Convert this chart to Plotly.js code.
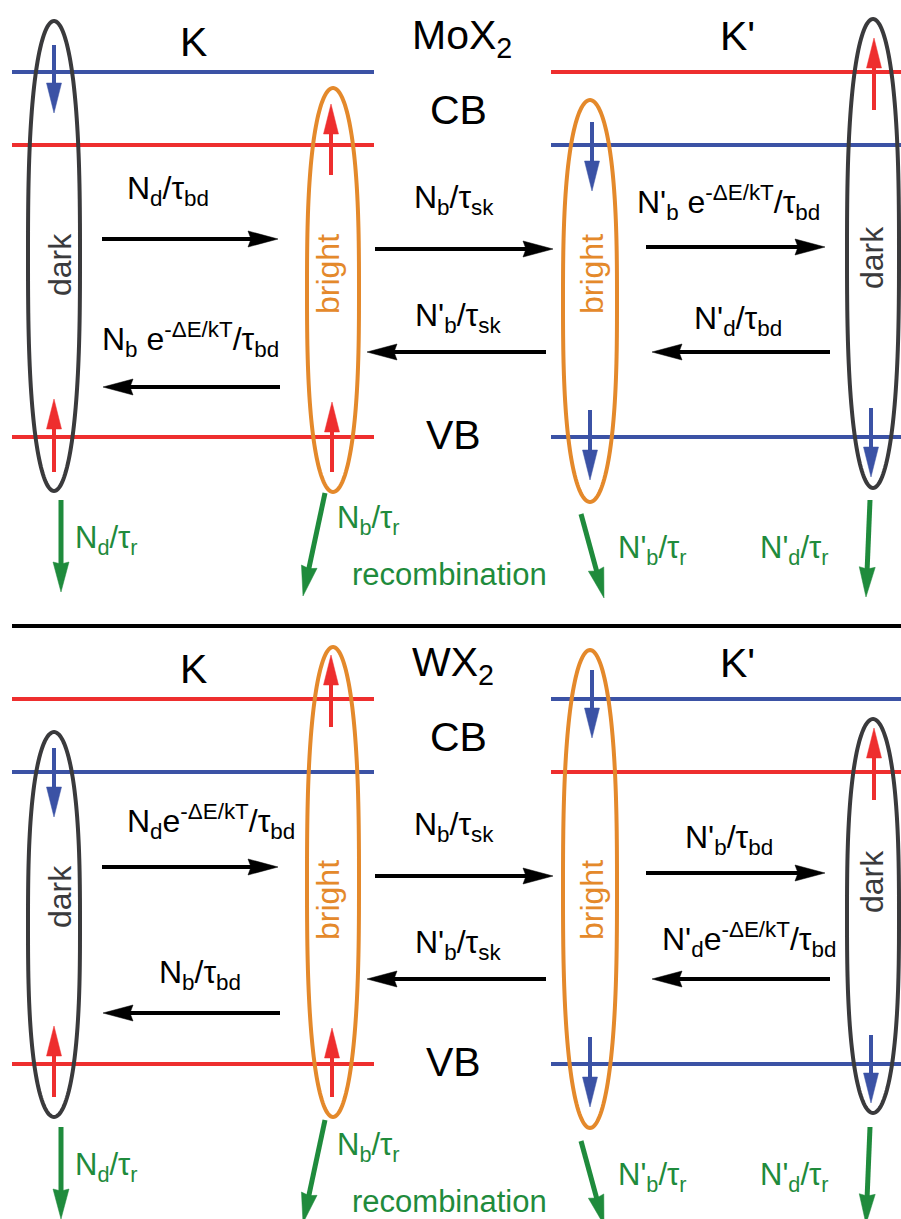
<!DOCTYPE html>
<html>
<head>
<meta charset="utf-8">
<script src="https://cdn.plot.ly/plotly-3.0.1.min.js"></script>
<style>html,body{margin:0;padding:0;background:#fff;}#chart{width:901px;height:1219px;}</style>
</head>
<body>
<div id="chart"></div>
<script>
// ---------- data (pixel units of the 901x1219 canvas) ----------
const panelNames = ['MoX<sub>2</sub>', 'WX<sub>2</sub>'];
const panelOffsets = [0, 627];

// band levels (relative to panel top): CB upper, CB lower, VB
const levelY = [72, 145, 437];
const leftLevelSpan = [12, 374];
const rightLevelSpan = [551, 901];
const leftLevelColors = [['blue', 'red', 'red'], ['red', 'blue', 'red']];
const rightLevelColors = [['red', 'blue', 'blue'], ['blue', 'red', 'blue']];

// excitons (ovals)
const excitonX = [54, 333, 590, 873];
const excitonWidth = [52, 52, 54, 52];
const excitonKind = ['dark', 'bright', 'bright', 'dark'];
const excitonTop = [[21, 88, 100, 19], [105, 20, 23, 92]];
const excitonBottom = [[491, 492, 502, 488], [490, 490, 501, 486]];
const excitonTextX = [60, 328, 592, 872];
const excitonTextY = [[265, 274, 274, 258], [270, 273, 273, 255]];

// spin arrows inside the ovals
const spinX = [54, 331, 54, 332, 592, 874, 590, 871];
const spinFrom = [[45, 175, 472, 472, 122, 110, 410, 408], [121, 100, 470, 470, 43, 173, 410, 408]];
const spinTo = [[113, 104, 399, 402, 191, 38, 480, 477], [190, 28, 399, 401, 111, 101, 480, 476]];
const spinColor = ['blue', 'red', 'red', 'red', 'blue', 'red', 'blue', 'blue'];

// transfer arrows between valleys
const transferFromX = [102, 375, 646, 280, 546, 830];
const transferToX = [278, 553, 825, 103, 367, 652];
const transferY = [[239, 249, 247, 387, 352, 352], [240, 249, 246, 386, 352, 352]];
const transferLabels = [
  ['N<sub>d</sub>/τ<sub>bd</sub>', 'N<sub>b</sub>/τ<sub>sk</sub>', "N'<sub>b</sub> e<sup>-ΔE/kT</sup>/τ<sub>bd</sub>",
   'N<sub>b</sub> e<sup>-ΔE/kT</sup>/τ<sub>bd</sub>', "N'<sub>b</sub>/τ<sub>sk</sub>", "N'<sub>d</sub>/τ<sub>bd</sub>"],
  ['N<sub>d</sub>e<sup>-ΔE/kT</sup>/τ<sub>bd</sub>', 'N<sub>b</sub>/τ<sub>sk</sub>', "N'<sub>b</sub>/τ<sub>bd</sub>",
   'N<sub>b</sub>/τ<sub>bd</sub>', "N'<sub>b</sub>/τ<sub>sk</sub>", "N'<sub>d</sub>e<sup>-ΔE/kT</sup>/τ<sub>bd</sub>"]
];
const transferLabelX = [[125, 412, 635, 100, 413, 692], [125, 412, 683, 157, 413, 660]];
const transferLabelBase = [[198, 207, 213, 350, 325, 328], [205, 207, 220, 355, 325, 323]];

// recombination arrows (green)
const recFromX = [61, 325, 581, 870];
const recFromY = [500, 493, 514, 500];
const recToX = [61, 303, 604, 866];
const recToY = [592, 596, 598, 597];
const recLabels = ['N<sub>d</sub>/τ<sub>r</sub>', 'N<sub>b</sub>/τ<sub>r</sub>', "N'<sub>b</sub>/τ<sub>r</sub>", "N'<sub>d</sub>/τ<sub>r</sub>", 'recombination'];
const recLabelX = [73, 335, 616, 758, 350];
const recLabelBase = [547, 527, 557, 557, 585];

// big headings
const headText = ['K', "K'", 'CB', 'VB'];
const headX = [193, 737, 458, 453];
const headBase = [56, 50, 124, 449];
const nameX = 410;
const nameBase = 47;
const separatorY = 626;

// ---------- drawing ----------
const COL = {blue: '#3b52a5', red: '#ee2e2e', orange: '#e4892b', dark: '#3a3a3c', green: '#1f8b3c', black: '#000000'};
const FONT = 'Liberation Sans, Arial, sans-serif';
const shapes = [];
const annotations = [];

function addLine(x0, y0, x1, y1, color, w) {
  shapes.push({type: 'line', xref: 'x', yref: 'y', x0: x0, y0: y0, x1: x1, y1: y1, line: {color: color, width: w}, layer: 'above'});
}
function addArrow(x0, y0, x1, y1, color, lw, headLen, headW, notch) {
  const dx = x1 - x0, dy = y1 - y0, L = Math.hypot(dx, dy), ux = dx / L, uy = dy / L, px = -uy, py = ux;
  const bx = x1 - ux * headLen, by = y1 - uy * headLen;
  addLine(x0, y0, bx + ux * (notch + 2), by + uy * (notch + 2), color, lw);
  const p = [[x1, y1], [bx + px * headW / 2, by + py * headW / 2], [bx + ux * notch, by + uy * notch], [bx - px * headW / 2, by - py * headW / 2]];
  shapes.push({type: 'path', xref: 'x', yref: 'y', layer: 'above',
    path: 'M' + p.map(q => q[0].toFixed(2) + ',' + q[1].toFixed(2)).join('L') + 'Z',
    fillcolor: color, line: {color: color, width: 0.5}});
}
function addOval(cx, top, bottom, w, color) {
  const cy = (top + bottom) / 2, b = (bottom - top) / 2, a = w / 2, n = 2.7, N = 90;
  const right = [], left = [];
  for (let i = 0; i <= N; i++) {
    const t = Math.sin(-Math.PI / 2 + Math.PI * i / N);
    const hw = a * Math.sqrt(Math.max(0, 1 - Math.pow(Math.abs(t), n)));
    right.push([cx + hw, cy + t * b]);
    left.push([cx - hw, cy + t * b]);
  }
  const pts = right.concat(left.reverse());
  shapes.push({type: 'path', xref: 'x', yref: 'y', layer: 'above',
    path: 'M' + pts.map(q => q[0].toFixed(2) + ',' + q[1].toFixed(2)).join('L') + 'Z',
    line: {color: color, width: 4}, fillcolor: 'rgba(0,0,0,0)'});
}
function addText(text, x, baseline, size, color, xanchor) {
  const hasSub = text.indexOf('<sub>') >= 0, hasSup = text.indexOf('<sup>') >= 0;
  const y = baseline - 0.35 * size + (hasSub ? 0.12 * size : 0) - (hasSup ? 0.1 * size : 0);
  annotations.push({x: x, y: y, xref: 'x', yref: 'y', text: text, showarrow: false,
    xanchor: xanchor, yanchor: 'middle', font: {family: FONT, size: size, color: color}});
}

for (let p = 0; p < 2; p++) {
  const off = panelOffsets[p];
  // levels
  for (let i = 0; i < levelY.length; i++) {
    addLine(leftLevelSpan[0], off + levelY[i], leftLevelSpan[1], off + levelY[i], COL[leftLevelColors[p][i]], 4);
    addLine(rightLevelSpan[0], off + levelY[i], rightLevelSpan[1], off + levelY[i], COL[rightLevelColors[p][i]], 4);
  }
  // ovals + labels
  for (let i = 0; i < excitonX.length; i++) {
    const c = excitonKind[i] === 'dark' ? COL.dark : COL.orange;
    addOval(excitonX[i], off + excitonTop[p][i], off + excitonBottom[p][i], excitonWidth[i], c);
    annotations.push({x: excitonTextX[i], y: off + excitonTextY[p][i], xref: 'x', yref: 'y', text: excitonKind[i],
      showarrow: false, textangle: -90, xanchor: 'center', yanchor: 'middle', font: {family: FONT, size: 32, color: c}});
  }
  // spins
  for (let i = 0; i < spinX.length; i++) {
    addArrow(spinX[i], off + spinFrom[p][i], spinX[i], off + spinTo[p][i], COL[spinColor[i]], 4, 30, 15, 0);
  }
  // transfer arrows
  for (let i = 0; i < transferFromX.length; i++) {
    addArrow(transferFromX[i], off + transferY[p][i], transferToX[i], off + transferY[p][i], COL.black, 4, 30, 16, 3);
    addText(transferLabels[p][i], transferLabelX[p][i], off + transferLabelBase[p][i], 32, COL.black, 'left');
  }
  // recombination
  for (let i = 0; i < recFromX.length; i++) {
    addArrow(recFromX[i], off + recFromY[i], recToX[i], off + recToY[i], COL.green, 5, 30, 16, 2);
  }
  for (let i = 0; i < recLabels.length; i++) {
    addText(recLabels[i], recLabelX[i], off + recLabelBase[i], 31, COL.green, 'left');
  }
  // headings
  for (let i = 0; i < headText.length; i++) {
    addText(headText[i], headX[i], off + headBase[i], 41, COL.black, 'center');
  }
  addText(panelNames[p], nameX, off + nameBase, 41, COL.black, 'left');
}
addLine(12, separatorY, 901, separatorY, COL.black, 4);

const layout = {
  width: 901, height: 1219,
  margin: {l: 0, r: 0, t: 0, b: 0},
  paper_bgcolor: '#ffffff', plot_bgcolor: '#ffffff',
  showlegend: false,
  xaxis: {range: [0, 901], visible: false, fixedrange: true},
  yaxis: {range: [1219, 0], visible: false, fixedrange: true},
  shapes: shapes,
  annotations: annotations
};
Plotly.newPlot('chart', [{x: [], y: [], type: 'scatter', mode: 'markers', hoverinfo: 'skip'}], layout, {staticPlot: true, displayModeBar: false});
</script>
</body>
</html>
